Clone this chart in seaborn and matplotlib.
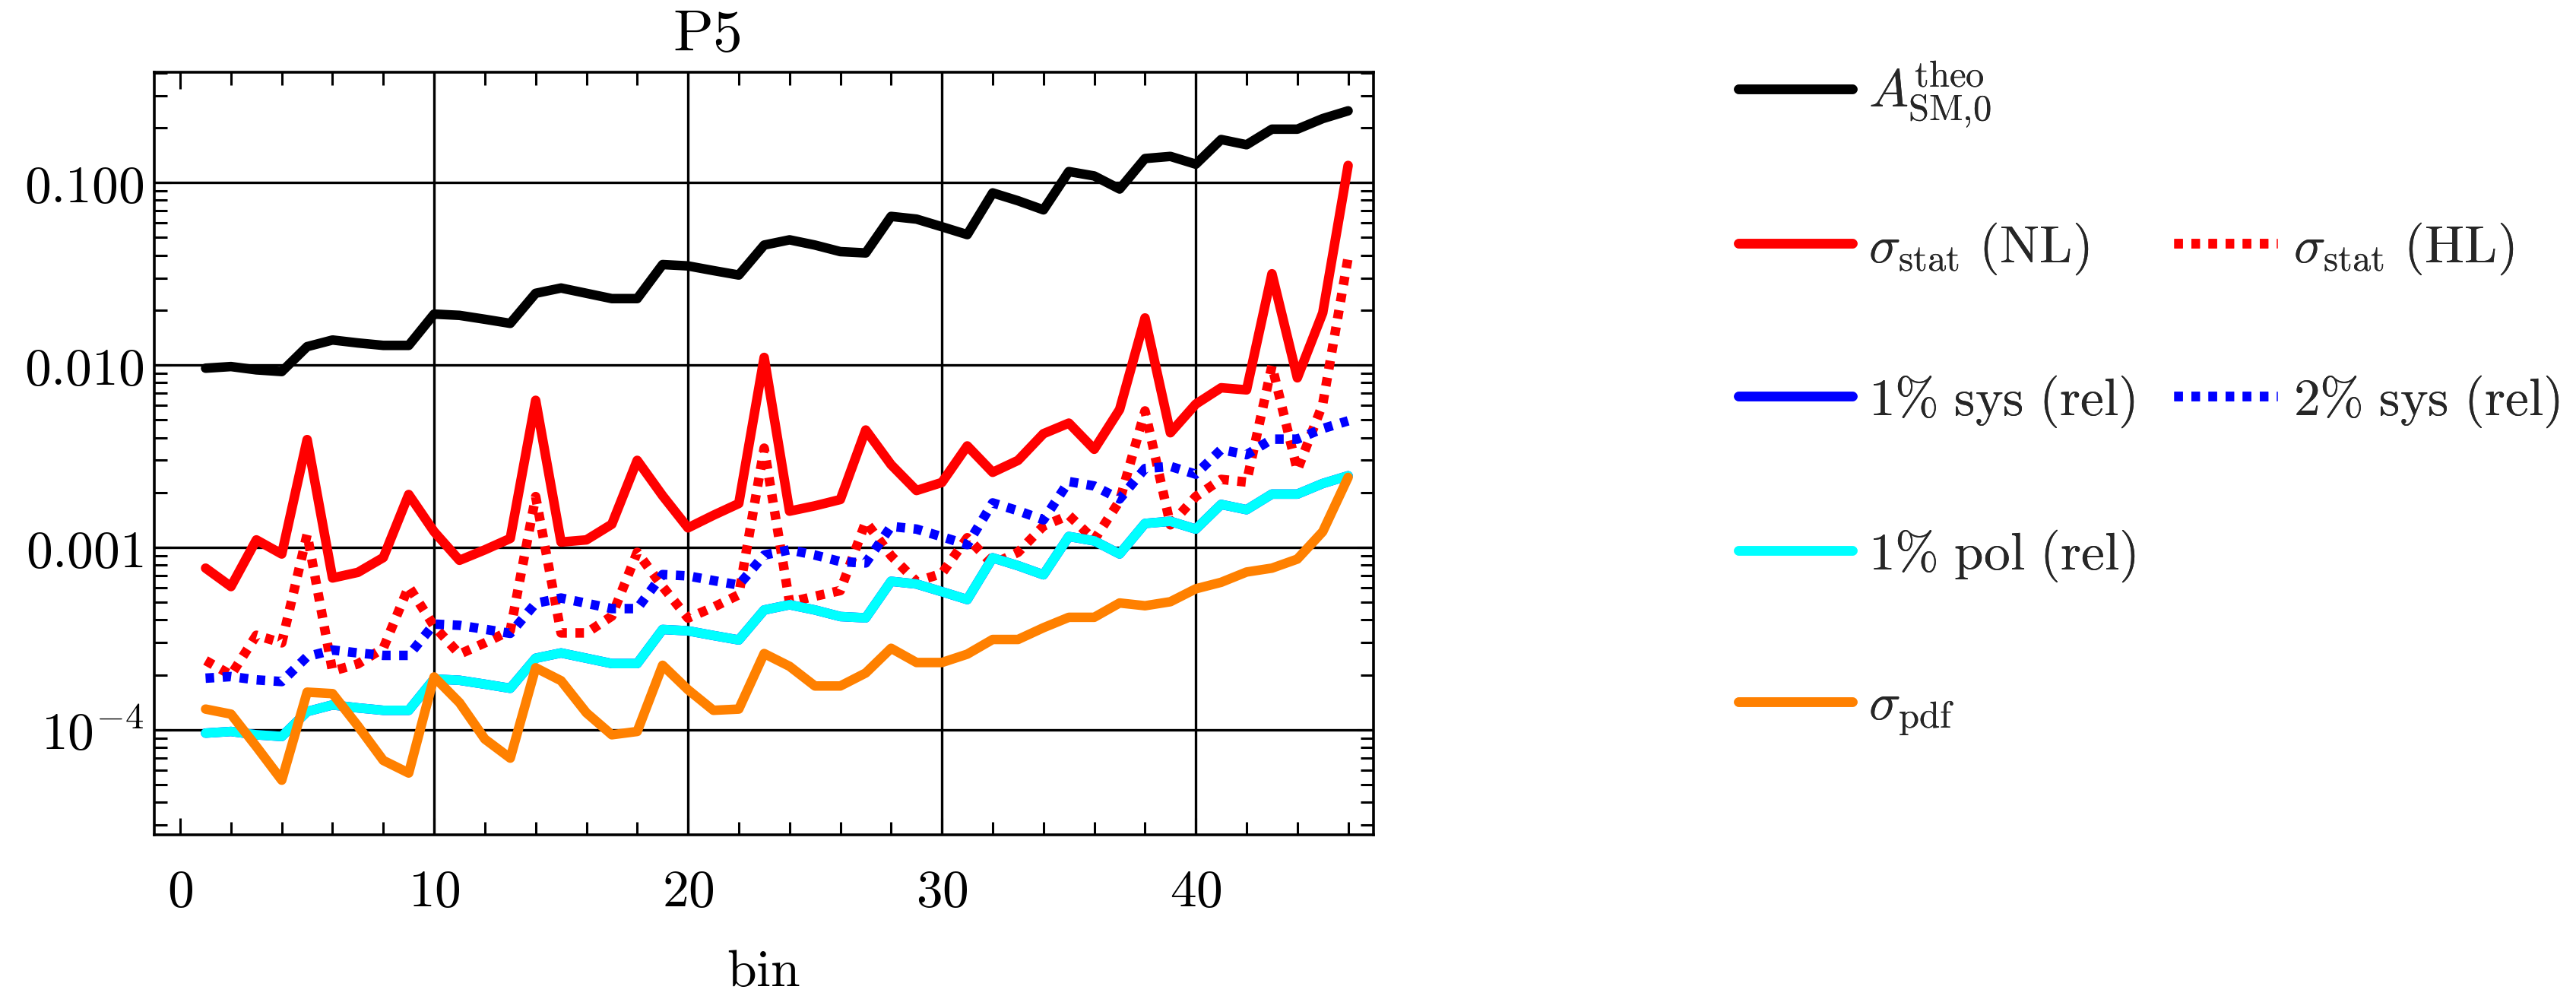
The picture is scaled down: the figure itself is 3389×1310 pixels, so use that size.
import matplotlib
matplotlib.use("Agg")
import matplotlib.pyplot as plt
import seaborn as sns
import pandas as pd
from matplotlib.lines import Line2D
from matplotlib.ticker import FixedLocator, FixedFormatter, NullFormatter, LogLocator

# ---------------- data ----------------
bins = list(range(1, 47))

A_theo = [0.0096, 0.0098, 0.0094, 0.0092, 0.0126, 0.0137, 0.0132, 0.0128, 0.0128, 0.0190,
          0.0187, 0.0178, 0.0169, 0.0247, 0.0264, 0.0247, 0.0231, 0.0231, 0.0355, 0.0349,
          0.0329, 0.0311, 0.0454, 0.0485, 0.0454, 0.0418, 0.0411, 0.0652, 0.0630, 0.0572,
          0.0518, 0.0877, 0.0794, 0.0708, 0.1148, 0.1086, 0.0921, 0.1353, 0.1390, 0.1260,
          0.1720, 0.1610, 0.1960, 0.1960, 0.2240, 0.2470]

sig_stat_NL = [0.00077, 0.00061, 0.00110, 0.00092, 0.0039, 0.00068, 0.00073, 0.00088, 0.00195, 0.00122,
               0.00085, 0.00097, 0.00112, 0.0064, 0.00107, 0.00110, 0.00134, 0.0030, 0.00192, 0.00128,
               0.00150, 0.00174, 0.0110, 0.00158, 0.00169, 0.00183, 0.0044, 0.00284, 0.00205, 0.00227,
               0.0036, 0.00258, 0.0030, 0.0042, 0.0048, 0.00345, 0.0057, 0.0181, 0.00425, 0.0061,
               0.0075, 0.0073, 0.0316, 0.0085, 0.0193, 0.124]

sig_stat_HL = [0.00024, 0.00020, 0.00033, 0.00030, 0.00118, 0.00021, 0.00023, 0.00028, 0.00061, 0.00037,
               0.00026, 0.00030, 0.00035, 0.0019, 0.00034, 0.00034, 0.00042, 0.00094, 0.00061, 0.00041,
               0.00047, 0.00055, 0.0035, 0.00050, 0.00054, 0.00058, 0.00138, 0.00090, 0.00065, 0.00072,
               0.00113, 0.00081, 0.00094, 0.00131, 0.00150, 0.00110, 0.00180, 0.0056, 0.00133, 0.00190,
               0.00236, 0.00228, 0.0099, 0.00265, 0.0061, 0.0388]

sys1_rel = [0.000096, 0.000098, 0.000094, 0.000092, 0.000126, 0.000137, 0.000132, 0.000128, 0.000128, 0.000190,
            0.000187, 0.000178, 0.000169, 0.000247, 0.000264, 0.000247, 0.000231, 0.000231, 0.000355, 0.000349,
            0.000329, 0.000311, 0.000454, 0.000485, 0.000454, 0.000418, 0.000411, 0.000652, 0.000630, 0.000572,
            0.000518, 0.000877, 0.000794, 0.000708, 0.001148, 0.001086, 0.000921, 0.001353, 0.001390, 0.001260,
            0.001720, 0.001610, 0.001960, 0.001960, 0.002240, 0.002470]

sys2_rel = [0.000192, 0.000196, 0.000188, 0.000184, 0.000252, 0.000274, 0.000264, 0.000256, 0.000256, 0.000380,
            0.000374, 0.000356, 0.000338, 0.000494, 0.000528, 0.000494, 0.000462, 0.000462, 0.000710, 0.000698,
            0.000658, 0.000622, 0.000908, 0.000970, 0.000908, 0.000836, 0.000822, 0.001304, 0.001260, 0.001144,
            0.001036, 0.001754, 0.001588, 0.001416, 0.002296, 0.002172, 0.001842, 0.002706, 0.002780, 0.002520,
            0.003440, 0.003220, 0.003920, 0.003920, 0.004480, 0.004940]

pol1_rel = [0.000096, 0.000098, 0.000094, 0.000092, 0.000126, 0.000137, 0.000132, 0.000128, 0.000128, 0.000190,
            0.000187, 0.000178, 0.000169, 0.000247, 0.000264, 0.000247, 0.000231, 0.000231, 0.000355, 0.000349,
            0.000329, 0.000311, 0.000454, 0.000485, 0.000454, 0.000418, 0.000411, 0.000652, 0.000630, 0.000572,
            0.000518, 0.000877, 0.000794, 0.000708, 0.001148, 0.001086, 0.000921, 0.001353, 0.001390, 0.001260,
            0.001720, 0.001610, 0.001960, 0.001960, 0.002240, 0.002470]

sig_pdf = [0.000130, 0.000122, 0.000081, 0.000053, 0.000161, 0.000158, 0.000105, 0.000068, 0.000058, 0.000195,
           0.000141, 0.000089, 0.000070, 0.000219, 0.000186, 0.000124, 0.000094, 0.000098, 0.000226, 0.000166,
           0.000128, 0.000130, 0.000262, 0.000223, 0.000174, 0.000174, 0.000205, 0.000280, 0.000234, 0.000234,
           0.000260, 0.000313, 0.000313, 0.000363, 0.000414, 0.000414, 0.000496, 0.000479, 0.000504, 0.000593,
           0.000644, 0.000733, 0.000770, 0.000863, 0.00122, 0.00242]

x_ticks = [0, 10, 20, 30, 40]
x_tick_labels = [r"$\mathrm{0}$", r"$\mathrm{10}$", r"$\mathrm{20}$", r"$\mathrm{30}$", r"$\mathrm{40}$"]
y_ticks = [1e-4, 1e-3, 1e-2, 1e-1]
y_tick_labels = [r"$10^{-4}$", r"$\mathrm{0.001}$", r"$\mathrm{0.010}$", r"$\mathrm{0.100}$"]

title_text = r"$\mathrm{P5}$"
xlabel_text = r"$\mathrm{bin}$"
legend_labels = {
    "A": r"$A_{\mathrm{SM{,}0}}^{\mathrm{theo}}$",
    "NL": r"$\sigma_{\mathrm{stat}}\ \mathrm{(NL)}$",
    "HL": r"$\sigma_{\mathrm{stat}}\ \mathrm{(HL)}$",
    "sys1": r"$\mathrm{1\%\ sys\ (rel)}$",
    "sys2": r"$\mathrm{2\%\ sys\ (rel)}$",
    "pol": r"$\mathrm{1\%\ pol\ (rel)}$",
    "pdf": r"$\sigma_{\mathrm{pdf}}$",
}

# ---------------- style ----------------
sns.set_theme(style="ticks")
plt.rcParams["mathtext.fontset"] = "cm"
plt.rcParams["font.family"] = ["DejaVu Serif"]
plt.rcParams["axes.unicode_minus"] = False

W, H = 3389, 1310
fig = plt.figure(figsize=(W / 100, H / 100), dpi=100)
fig.patch.set_facecolor("white")

ax_l, ax_r, ax_t, ax_b = 203, 1807, 94.5, 1098
ax = fig.add_axes([ax_l / W, 1 - ax_b / H, (ax_r - ax_l) / W, (ax_b - ax_t) / H])
ax.set_facecolor("white")

df = pd.DataFrame({"bin": bins, "A": A_theo, "NL": sig_stat_NL, "HL": sig_stat_HL,
                   "sys1": sys1_rel, "sys2": sys2_rel, "pol": pol1_rel, "pdf": sig_pdf})

LW = 9
DOT = (0, (0.9, 0.9))
series = [
    ("A", "#000000", "-"),
    ("NL", "#FF0000", "-"),
    ("HL", "#FF0000", DOT),
    ("sys1", "#0000FF", "-"),
    ("sys2", "#0000FF", DOT),
    ("pol", "#00FFFF", "-"),
    ("pdf", "#FF8000", "-"),
]
for i, (key, col, ls) in enumerate(series):
    sns.lineplot(data=df, x="bin", y=key, color=col, linewidth=LW, linestyle=ls,
                 ax=ax, legend=False, zorder=3 + i, dash_capstyle="butt")

ax.set_yscale("log")
ax.set_xlim(-1.02, 47.0)
ax.set_ylim(2.66e-5, 0.404)

ax.xaxis.set_major_locator(FixedLocator(x_ticks))
ax.xaxis.set_major_formatter(FixedFormatter(x_tick_labels))
ax.xaxis.set_minor_locator(FixedLocator([v for v in range(2, 47, 2) if v % 10 != 0]))
ax.yaxis.set_major_locator(FixedLocator(y_ticks))
ax.yaxis.set_major_formatter(FixedFormatter(y_tick_labels))
ax.yaxis.set_minor_locator(LogLocator(base=10, subs=[2, 3, 4, 5, 6, 7, 8, 9], numticks=20))
ax.yaxis.set_minor_formatter(NullFormatter())

ax.tick_params(which="both", direction="in", top=True, right=True, color="black", width=2.2)
ax.tick_params(which="major", length=16, labelsize=50, labelcolor="black")
ax.tick_params(which="minor", length=12)
ax.tick_params(axis="x", which="major", pad=30)
ax.tick_params(axis="y", which="major", pad=10)

ax.grid(True, which="major", color="black", linewidth=2.4, zorder=1)
ax.grid(False, which="minor")
ax.xaxis.get_major_ticks()[0].gridline.set_visible(False)
for s in ax.spines.values():
    s.set_linewidth(2.6)
    s.set_color("black")
ax.set_xlabel("")
ax.set_ylabel("")

fig.text(930 / W, 1 - 45 / H, title_text, ha="center", va="center", fontsize=56, color="black")
fig.text(1005 / W, 1 - 1278 / H, xlabel_text, ha="center", va="center", fontsize=50, color="black")

# ---------------- legend (one entry per cell) ----------------
def handle(col, ls):
    return Line2D([], [], color=col, linewidth=LW, linestyle=ls, dash_capstyle="butt")

cells = [
    ("A", "#000000", "-", 2287, 125, 2.16),
    ("NL", "#FF0000", "-", 2287, 327, 2.16),
    ("HL", "#FF0000", DOT, 2860, 327, 1.96),
    ("sys1", "#0000FF", "-", 2287, 528, 2.16),
    ("sys2", "#0000FF", DOT, 2860, 528, 1.96),
    ("pol", "#00FFFF", "-", 2287, 731, 2.16),
    ("pdf", "#FF8000", "-", 2287, 933, 2.16),
]
for key, col, ls, xp, yp, hl in cells:
    leg = fig.legend([handle(col, ls)], [legend_labels[key]], loc="center left",
                     bbox_to_anchor=(xp / W, 1 - yp / H), frameon=False, fontsize=50,
                     handlelength=hl, handletextpad=0.3, borderpad=0, borderaxespad=0)
    fig.add_artist(leg)

fig.savefig("out.png", dpi=100, facecolor="white")
